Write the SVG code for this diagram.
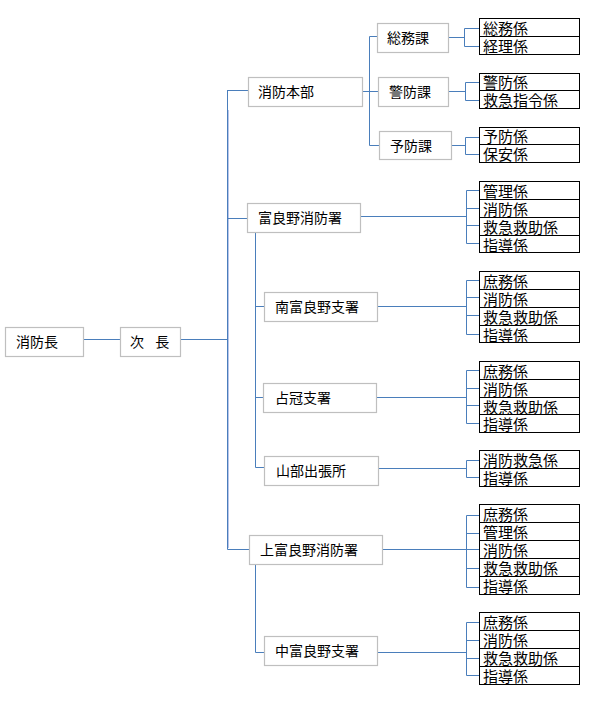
<svg xmlns="http://www.w3.org/2000/svg" width="601" height="703" viewBox="0 0 601 703">
<style>
.box{fill:#fff;stroke:#bfbfbf;stroke-width:1.2}
.leaf{fill:#fff;stroke:#000;stroke-width:1}
.c{fill:none;stroke:#4a7ebb;stroke-width:1}
.halo{fill:none;stroke:#b8c4ea;stroke-width:1}
text{font-family:"Noto Sans CJK JP","Noto Sans CJK SC",sans-serif;fill:#000}
.t{font-size:14px}
.l{font-size:15px}
</style>
<rect width="601" height="703" fill="#fff"/>
<g id="connectors">
<path class="halo" d="M228.5 110V548"/>
<path class="c" d="M83 339.5H120M180 339.5H227.5M227.5 90V549.5M227.5 90.5H248M227.5 218.5H247M227.5 549.5H249"/>
<path class="c" d="M255.5 232V467.5M255.5 306.5H264M255.5 397.5H263M255.5 467.5H264"/>
<path class="c" d="M255.5 564V652.5M255.5 652.5H264"/>
<path class="c" d="M362 91.5H378M369.5 36.5V145.5M369.5 36.5H377M369.5 145.5H379"/>
<path class="c" d="M448 37.5H464.5M464.5 28.5V46.5M464.5 28.5H479M464.5 46.5H479"/>
<path class="c" d="M448 91.5H465.5M465.5 82.5V100.5M465.5 82.5H479M465.5 100.5H479"/>
<path class="c" d="M451 145.5H465.5M465.5 137.5V154.5M465.5 137.5H479M465.5 154.5H479"/>
<path class="c" d="M360 216.5H466.5M466.5 190.5V243.5M466.5 190.5H479M466.5 208.5H479M466.5 225.5H479M466.5 243.5H479"/>
<path class="c" d="M377 306.5H466.5M466.5 280.5V334.5M466.5 280.5H479M466.5 297.5H479M466.5 315.5H479M466.5 334.5H479"/>
<path class="c" d="M376 397.5H466.5M466.5 370.5V423.5M466.5 370.5H479M466.5 388.5H479M466.5 405.5H479M466.5 423.5H479"/>
<path class="c" d="M378 468.5H466.5M466.5 460.5V477.5M466.5 460.5H479M466.5 477.5H479"/>
<path class="c" d="M382 549.5H466.5M466.5 515.5V587.5M466.5 515.5H479M466.5 533.5H479M466.5 549.5H479M466.5 568.5H479M466.5 587.5H479"/>
<path class="c" d="M377 652.5H466.5M466.5 622.5V675.5M466.5 622.5H479M466.5 640.5H479M466.5 658.5H479M466.5 675.5H479"/>
</g>
<g id="n-chief"><rect class="box" x="5.5" y="327.5" width="78" height="29"/><text class="t" x="16" y="347">消防長</text></g>
<g id="n-deputy"><rect class="box" x="120.5" y="327.5" width="60" height="29"/><text class="t" x="130" y="347" word-spacing="8" xml:space="preserve">次 長</text></g>
<g id="n-honbu"><rect class="box" x="248.5" y="77.5" width="114" height="29"/><text class="t" x="258" y="97">消防本部</text></g>
<g id="n-furano"><rect class="box" x="247.5" y="203.5" width="113" height="29"/><text class="t" x="258" y="223">富良野消防署</text></g>
<g id="n-minami"><rect class="box" x="264.5" y="292.5" width="113" height="29"/><text class="t" x="275" y="312">南富良野支署</text></g>
<g id="n-shimukappu"><rect class="box" x="263.5" y="383.5" width="113" height="29"/><text class="t" x="275" y="403">占冠支署</text></g>
<g id="n-yamabe"><rect class="box" x="264.5" y="456.5" width="114" height="29"/><text class="t" x="276" y="476">山部出張所</text></g>
<g id="n-kami"><rect class="box" x="249.5" y="535.5" width="133" height="29"/><text class="t" x="260" y="555">上富良野消防署</text></g>
<g id="n-naka"><rect class="box" x="264.5" y="636.5" width="113" height="29"/><text class="t" x="275" y="656">中富良野支署</text></g>
<g id="n-somuka"><rect class="box" x="377.5" y="23.5" width="71" height="29"/><text class="t" x="387" y="43">総務課</text></g>
<g id="n-keiboka"><rect class="box" x="378.5" y="77.5" width="70" height="29"/><text class="t" x="389" y="97">警防課</text></g>
<g id="n-yoboka"><rect class="box" x="379.5" y="131.5" width="72" height="28"/><text class="t" x="390" y="151">予防課</text></g>
<g id="g-somu">
<rect class="leaf" x="479.5" y="18.5" width="100" height="18"/><text class="l" x="483" y="34">総務係</text>
<rect class="leaf" x="479.5" y="36.5" width="100" height="18"/><text class="l" x="483" y="52">経理係</text>
</g>
<g id="g-keibo">
<rect class="leaf" x="479.5" y="73.5" width="100" height="17"/><text class="l" x="483" y="88">警防係</text>
<rect class="leaf" x="479.5" y="90.5" width="100" height="18"/><text class="l" x="483" y="106">救急指令係</text>
</g>
<g id="g-yobo">
<rect class="leaf" x="479.5" y="127.5" width="100" height="17"/><text class="l" x="483" y="142">予防係</text>
<rect class="leaf" x="479.5" y="144.5" width="100" height="18"/><text class="l" x="483" y="160">保安係</text>
</g>
<g id="g-furano">
<rect class="leaf" x="479.5" y="181.5" width="100" height="18"/><text class="l" x="483" y="197">管理係</text>
<rect class="leaf" x="479.5" y="199.5" width="100" height="18"/><text class="l" x="483" y="215">消防係</text>
<rect class="leaf" x="479.5" y="217.5" width="100" height="18"/><text class="l" x="483" y="233">救急救助係</text>
<rect class="leaf" x="479.5" y="235.5" width="100" height="17"/><text class="l" x="483" y="251">指導係</text>
</g>
<g id="g-minami">
<rect class="leaf" x="479.5" y="271.5" width="100" height="18"/><text class="l" x="483" y="287">庶務係</text>
<rect class="leaf" x="479.5" y="289.5" width="100" height="18"/><text class="l" x="483" y="305">消防係</text>
<rect class="leaf" x="479.5" y="307.5" width="100" height="18"/><text class="l" x="483" y="323">救急救助係</text>
<rect class="leaf" x="479.5" y="325.5" width="100" height="17"/><text class="l" x="483" y="341">指導係</text>
</g>
<g id="g-shimukappu">
<rect class="leaf" x="479.5" y="361.5" width="100" height="18"/><text class="l" x="483" y="377">庶務係</text>
<rect class="leaf" x="479.5" y="379.5" width="100" height="18"/><text class="l" x="483" y="395">消防係</text>
<rect class="leaf" x="479.5" y="397.5" width="100" height="17"/><text class="l" x="483" y="413">救急救助係</text>
<rect class="leaf" x="479.5" y="414.5" width="100" height="18"/><text class="l" x="483" y="430">指導係</text>
</g>
<g id="g-yamabe">
<rect class="leaf" x="479.5" y="450.5" width="100" height="18"/><text class="l" x="483" y="466">消防救急係</text>
<rect class="leaf" x="479.5" y="468.5" width="100" height="18"/><text class="l" x="483" y="484">指導係</text>
</g>
<g id="g-kami">
<rect class="leaf" x="479.5" y="504.5" width="100" height="18"/><text class="l" x="483" y="520">庶務係</text>
<rect class="leaf" x="479.5" y="522.5" width="100" height="18"/><text class="l" x="483" y="538">管理係</text>
<rect class="leaf" x="479.5" y="540.5" width="100" height="18"/><text class="l" x="483" y="556">消防係</text>
<rect class="leaf" x="479.5" y="558.5" width="100" height="18"/><text class="l" x="483" y="574">救急救助係</text>
<rect class="leaf" x="479.5" y="576.5" width="100" height="18"/><text class="l" x="483" y="592">指導係</text>
</g>
<g id="g-naka">
<rect class="leaf" x="479.5" y="612.5" width="100" height="18"/><text class="l" x="483" y="628">庶務係</text>
<rect class="leaf" x="479.5" y="630.5" width="100" height="18"/><text class="l" x="483" y="646">消防係</text>
<rect class="leaf" x="479.5" y="648.5" width="100" height="18"/><text class="l" x="483" y="664">救急救助係</text>
<rect class="leaf" x="479.5" y="666.5" width="100" height="18"/><text class="l" x="483" y="682">指導係</text>
</g>
</svg>
